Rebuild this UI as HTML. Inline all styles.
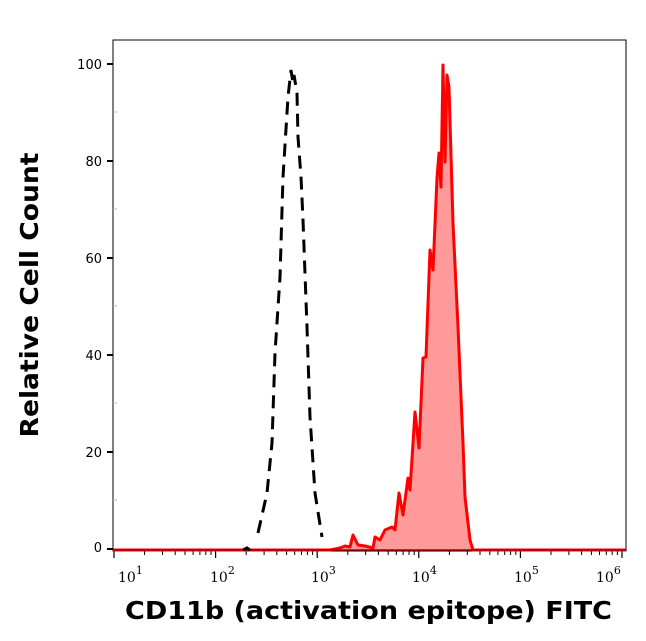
<!DOCTYPE html>
<html><head><style>body{margin:0;background:#fff}svg{display:block}</style></head><body>
<svg width="646" height="641" xmlns="http://www.w3.org/2000/svg">
<rect x="0" y="0" width="646" height="641" fill="#fff"/>
<rect x="113" y="40" width="513" height="511" fill="none" stroke="#000" stroke-width="1"/>
<!-- y ticks -->
<g stroke="#000" stroke-width="2">
<line x1="107" y1="549" x2="113" y2="549"/><line x1="107" y1="452" x2="113" y2="452"/>
<line x1="107" y1="355" x2="113" y2="355"/><line x1="107" y1="258" x2="113" y2="258"/>
<line x1="107" y1="161" x2="113" y2="161"/><line x1="107" y1="64" x2="113" y2="64"/>
</g>
<g stroke="#bbb" stroke-width="1">
<line x1="113" y1="500" x2="117" y2="500"/><line x1="113" y1="403" x2="117" y2="403"/>
<line x1="113" y1="306" x2="117" y2="306"/><line x1="113" y1="209" x2="117" y2="209"/>
<line x1="113" y1="112" x2="117" y2="112"/>
</g>
<g font-family="DejaVu Sans, sans-serif" font-size="13" text-anchor="end" fill="#000">
<text x="102" y="552">0</text><text x="102" y="457">20</text><text x="102" y="360">40</text>
<text x="102" y="263">60</text><text x="102" y="166">80</text><text x="102" y="69">100</text>
</g>
<!-- x ticks -->
<g stroke="#000" stroke-width="1.2" id="xt">
<line x1="114" y1="551" x2="114" y2="558"/><line x1="215.6" y1="551" x2="215.6" y2="558"/>
<line x1="317.2" y1="551" x2="317.2" y2="558"/><line x1="418.8" y1="551" x2="418.8" y2="558"/>
<line x1="520.4" y1="551" x2="520.4" y2="558"/><line x1="622" y1="551" x2="622" y2="558"/>
</g>
<g stroke="#000" stroke-width="1">
<path id="mt" d=""/>
</g>
<script>
var s='';for(var d=0;d<5;d++){for(var k=2;k<10;k++){var x=114+101.6*(d+Math.log10(k));s+='M'+x.toFixed(1)+' 551V555';}}
document.getElementById('mt').setAttribute('d',s);
</script>
<g font-family="DejaVu Serif, serif" font-size="14" fill="#000">
<text x="118" y="582">10<tspan font-size="11" dy="-8">1</tspan></text>
<text x="210" y="582">10<tspan font-size="11" dy="-8">2</tspan></text>
<text x="311" y="582">10<tspan font-size="11" dy="-8">3</tspan></text>
<text x="412" y="582">10<tspan font-size="11" dy="-8">4</tspan></text>
<text x="514" y="582">10<tspan font-size="11" dy="-8">5</tspan></text>
<text x="596" y="582">10<tspan font-size="11" dy="-8">6</tspan></text>
</g>
<!-- red filled -->
<path d="M113 550 L330 550 L340 548 L345 546 L350 547 L353 535 L358 545 L365 546 L373 548 L375 537 L380 540 L385 530 L392 527 L395 530 L399 493 L403 515 L408 478 L410 490 L415 412 L419 448 L423 358 L426 357 L430 250 L433 270 L437 178 L439 153 L441 187 L443 65 L445 162 L447 75 L449 87 L453 223 L458 327 L463 443 L465 497 L470 540 L473 550 L626 550" fill="#ff9a9a" stroke="#f00" stroke-width="3" stroke-linejoin="round"/>
<line x1="113" y1="550" x2="626" y2="550" stroke="#a00" stroke-width="1.5"/>
<!-- black dashed -->
<path d="M243 550 L247 548 L250 550 M258 533 L267 493 L272 443 L275 353 L280 277 L283 177 L288 97 L291 70 L293 83 L294 75 L297 93 L298 137 L301 177 L303 220 L307 327 L310 417 L315 493 L322 537" fill="none" stroke="#000" stroke-width="3" stroke-dasharray="13 8"/>
<text x="0" y="0" transform="translate(38,295) rotate(-90)" font-family="DejaVu Sans, sans-serif" font-weight="bold" font-size="25" text-anchor="middle" textLength="285" lengthAdjust="spacingAndGlyphs">Relative Cell Count</text>
<text x="125" y="619" font-family="DejaVu Sans, sans-serif" font-weight="bold" font-size="25" textLength="487" lengthAdjust="spacingAndGlyphs">CD11b (activation epitope) FITC</text>
</svg>
</body></html>
